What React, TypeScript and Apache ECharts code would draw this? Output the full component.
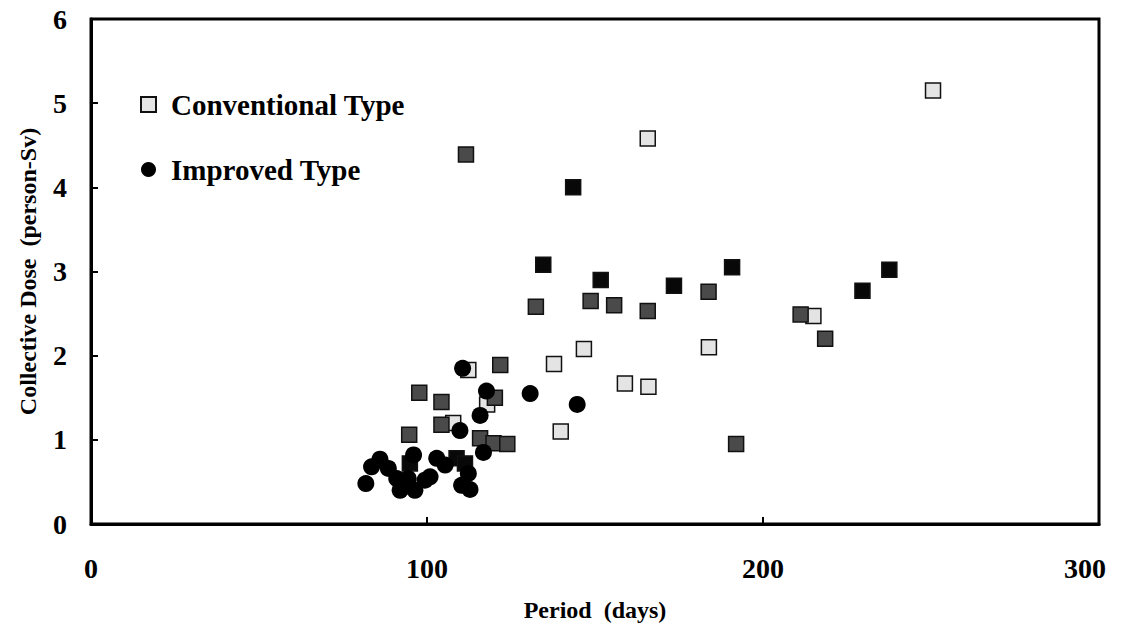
import React, { useEffect, useRef } from "react";
import * as echarts from "echarts";

const xTicks = [0, 100, 200, 300];
const yTicks = [0, 1, 2, 3, 4, 5, 6];

const conventionalLight: [number, number][] = [
  [250.6, 5.15], [165.7, 4.58], [137.8, 1.9], [146.7, 2.08], [183.9, 2.1],
  [158.9, 1.67], [165.9, 1.63], [139.8, 1.1], [107.8, 1.2], [112.3, 1.83],
  [117.9, 1.42], [215.0, 2.47],
];

const conventionalMid: [number, number][] = [
  [111.6, 4.39], [132.4, 2.58], [148.7, 2.65], [155.7, 2.6], [165.7, 2.53],
  [183.8, 2.76], [211.2, 2.49], [218.5, 2.2], [192.0, 0.95], [121.8, 1.89],
  [97.7, 1.56], [104.3, 1.45], [104.3, 1.18], [115.8, 1.02], [119.8, 0.96],
  [123.9, 0.95], [94.7, 1.06], [120.2, 1.5],
];

const conventionalDark: [number, number][] = [
  [143.5, 4.0], [134.6, 3.08], [151.7, 2.9], [173.5, 2.83], [190.8, 3.05],
  [237.6, 3.02], [229.6, 2.77], [94.9, 0.72], [108.8, 0.78], [111.3, 0.72],
];

const improved: [number, number][] = [
  [81.8, 0.48], [83.5, 0.68], [86.0, 0.77], [88.5, 0.66], [91.0, 0.54],
  [92.0, 0.4], [94.4, 0.54], [96.0, 0.82], [96.4, 0.4], [99.4, 0.52],
  [100.9, 0.56], [102.9, 0.78], [105.4, 0.7], [110.3, 0.46], [112.3, 0.6],
  [112.8, 0.41], [109.8, 1.11], [115.8, 1.29], [117.7, 1.58], [116.8, 0.85],
  [110.6, 1.85], [130.7, 1.55], [144.7, 1.42],
];

const FONT = '"Liberation Serif", "Times New Roman", serif';

export default function App() {
  const ref = useRef<HTMLDivElement>(null);
  useEffect(() => {
    if (!ref.current) return;
    const chart = echarts.init(ref.current, null, { renderer: "svg" });
    const squareSeries = (data: [number, number][], fill: string) => ({
      name: "Conventional Type",
      type: "scatter",
      data,
      symbol: "rect",
      symbolSize: 15,
      itemStyle: { color: fill, borderColor: "#111", borderWidth: 1.5, opacity: 1 },
      emphasis: { disabled: true },
    });
    const labelStyle = {
      fontFamily: FONT,
      fontWeight: "bold",
      fontSize: 28,
      color: "#000",
    };
    chart.setOption({
      animation: false,
      backgroundColor: "#fff",
      grid: {
        left: 91,
        right: 32,
        top: 19,
        bottom: 110,
        show: true,
        borderColor: "#000",
        borderWidth: 3,
      },
      legend: {
        data: ["Conventional Type", "Improved Type"],
        orient: "vertical",
        left: 135,
        top: 84,
        itemGap: 34,
        itemWidth: 15,
        itemHeight: 15,
        textStyle: {
          fontFamily: FONT,
          fontWeight: "bold",
          fontSize: 29,
          lineHeight: 31,
          color: "#000",
          padding: [0, 0, 0, 10],
        },
        selectedMode: false,
      },
      xAxis: {
        type: "value",
        min: xTicks[0],
        max: xTicks[xTicks.length - 1],
        interval: 100,
        name: "Period  (days)",
        nameLocation: "middle",
        nameGap: 74,
        nameTextStyle: { fontFamily: FONT, fontWeight: "bold", fontSize: 24, color: "#000" },
        axisLine: { show: true, lineStyle: { color: "#000", width: 3 } },
        axisTick: { show: true, inside: true, length: 7, lineStyle: { color: "#000", width: 2 } },
        axisLabel: {
          margin: 30,
          ...labelStyle,
          formatter: (v: number) => (v === xTicks[xTicks.length - 1] ? `{last|${v}}` : `${v}`),
          rich: { last: { ...labelStyle, padding: [0, 28, 0, 0] } },
        },
        splitLine: { show: false },
      },
      yAxis: {
        type: "value",
        min: yTicks[0],
        max: yTicks[yTicks.length - 1],
        interval: 1,
        name: "Collective Dose  (person-Sv)",
        nameLocation: "middle",
        nameGap: 51,
        nameTextStyle: { fontFamily: FONT, fontWeight: "bold", fontSize: 24, color: "#000" },
        axisLine: { show: true, lineStyle: { color: "#000", width: 3 } },
        axisTick: { show: true, inside: true, length: 7, lineStyle: { color: "#000", width: 2 } },
        axisLabel: { margin: 24, ...labelStyle },
        splitLine: { show: false },
      },
      series: [
        squareSeries(conventionalLight, "#e4e4e4"),
        squareSeries(conventionalMid, "#4a4a4a"),
        squareSeries(conventionalDark, "#080808"),
        {
          name: "Improved Type",
          type: "scatter",
          data: improved,
          symbol: "circle",
          symbolSize: 17,
          itemStyle: { color: "#000", opacity: 1 },
          emphasis: { disabled: true },
        },
      ],
    });
    return () => chart.dispose();
  }, []);
  return (
    <div
      ref={ref}
      style={{ position: "absolute", left: 0, top: 0, width: 1131, height: 634 }}
    />
  );
}
